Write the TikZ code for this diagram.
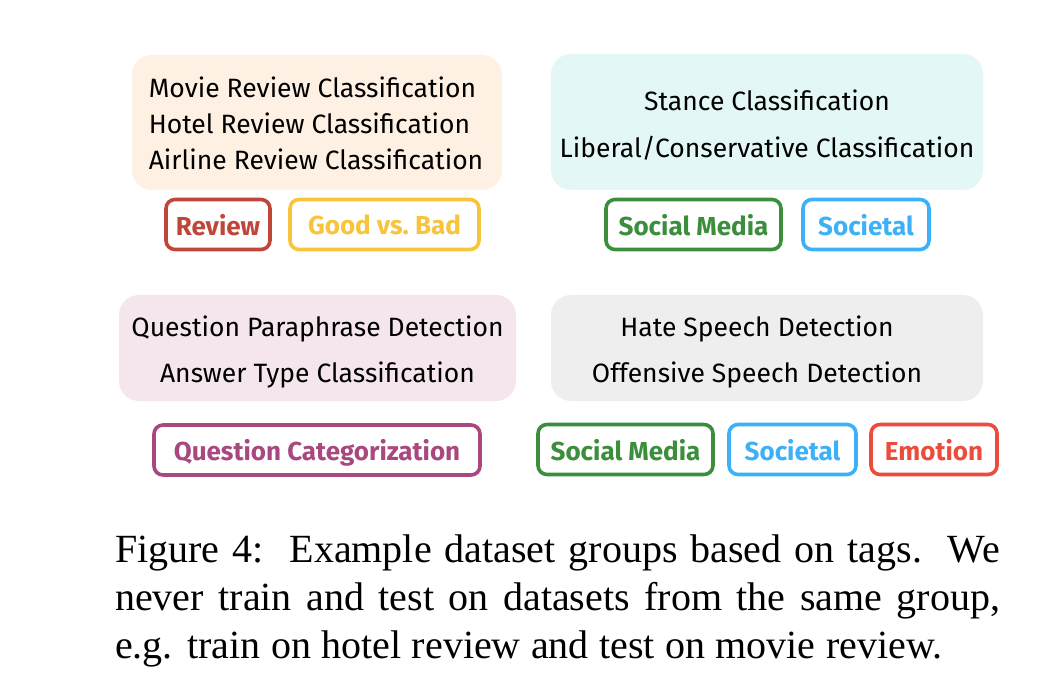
\documentclass[tikz,border=0pt]{standalone}
\usepackage{fontspec}
\setmainfont{Liberation Serif}
\newfontfamily\comicfont{Fira Sans}
\definecolor{peachfill}{HTML}{FEF1E3}
\definecolor{cyanfill}{HTML}{E3F8F6}
\definecolor{pinkfill}{HTML}{F5E6EE}
\definecolor{greyfill}{HTML}{EEEEEE}
\definecolor{reviewred}{HTML}{C0463A}
\definecolor{goodyellow}{HTML}{F8C43C}
\definecolor{mediagreen}{HTML}{3B8E3B}
\definecolor{societalblue}{HTML}{3DB1F7}
\definecolor{questionpurple}{HTML}{A9477F}
\definecolor{emotionred}{HTML}{EB4C3C}
\tikzset{
  groupbox/.style={rounded corners=20pt, draw=none, inner sep=0pt},
  grouptext/.style={inner sep=0pt, align=center,
    font=\comicfont\fontsize{26.5}{46.5}\selectfont},
  tagbox/.style={rounded corners=9pt, line width=3.6pt, fill=white, inner sep=0pt,
    minimum height=50pt, text depth=-2pt, font=\comicfont\bfseries\fontsize{26}{30}\selectfont},
  capline/.style={anchor=base west, inner sep=0pt, font=\fontsize{40}{48}\selectfont}
}
\begin{document}
\begin{tikzpicture}[x=1pt,y=-1pt]
\useasboundingbox[fill=white] (0,0) rectangle (1059,692);
% group 1
\node[groupbox, fill=peachfill, minimum width=370pt, minimum height=135pt] (g1) at (317,122.5) {};
\node[grouptext, align=left, font=\comicfont\fontsize{26.5}{36}\selectfont] (g1t) at ([xshift=-1pt,yshift=-1pt]g1.center)
  {Movie Review Classification\\Hotel Review Classification\\Airline Review Classification};
\node[tagbox, draw=reviewred, text=reviewred, minimum width=104pt] (t1a) at (218,224.5) {Review};
\node[tagbox, draw=goodyellow, text=goodyellow, minimum width=189pt] (t1b) at (384.5,224.5) {Good vs.\ Bad};
% group 2
\node[groupbox, fill=cyanfill, minimum width=432pt, minimum height=136pt] (g2) at (767,122) {};
\node[grouptext] (g2t) at ([yshift=-3pt]g2.center)
  {Stance Classification\\Liberal/Conservative Classification};
\node[tagbox, draw=mediagreen, text=mediagreen, minimum width=175pt] (t2a) at (693.5,224.5) {Social Media};
\node[tagbox, draw=societalblue, text=societalblue, minimum width=126pt] (t2b) at (866,224.5) {Societal};
% group 3
\node[groupbox, fill=pinkfill, minimum width=397pt, minimum height=106pt] (g3) at (317.5,348) {};
\node[grouptext] (g3t) at ([yshift=-4pt]g3.center)
  {Question Paraphrase Detection\\Answer Type Classification};
\node[tagbox, draw=questionpurple, text=questionpurple, minimum width=326pt] (t3a) at (317,450) {Question Categorization};
% group 4
\node[groupbox, fill=greyfill, minimum width=432pt, minimum height=106pt] (g4) at (767,348) {};
\node[grouptext] (g4t) at ([xshift=-10pt,yshift=-4pt]g4.center)
  {Hate Speech Detection\\Offensive Speech Detection};
\node[tagbox, draw=mediagreen, text=mediagreen, minimum width=175pt] (t4a) at (625.5,449.5) {Social Media};
\node[tagbox, draw=societalblue, text=societalblue, minimum width=127pt] (t4b) at (792.5,449.5) {Societal};
\node[tagbox, draw=emotionred, text=emotionred, minimum width=126pt] (t4c) at (934,449.5) {Emotion};
% caption
\node[capline] (c1) at (115,562) {\makebox[885pt][s]{Figure 4:\ \ Example dataset groups based on tags.\ \ We}};
\node[capline] (c2) at (115,610) {\makebox[885pt][s]{never train and test on datasets from the same group,}};
\node[capline] (c3) at (115,658) {\makebox[827pt][s]{e.g. train on hotel review and test on movie review.}};
\end{tikzpicture}
\end{document}
